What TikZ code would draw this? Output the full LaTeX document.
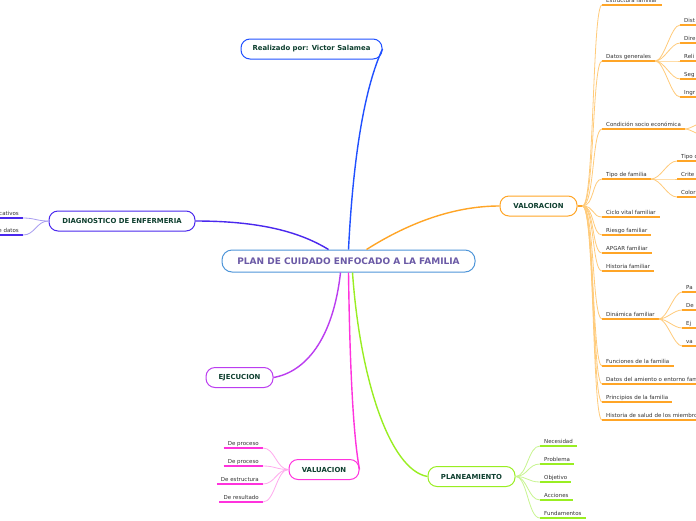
\documentclass[tikz,border=0pt]{standalone}
\usepackage{fontspec}
\setmainfont{DejaVu Sans}
\definecolor{nodetxt}{HTML}{0E3F2F}
\definecolor{roottxt}{HTML}{6B5AA6}
\definecolor{leaftxt}{HTML}{333333}
\definecolor{rootc}{HTML}{4F96D9}
\definecolor{bluec}{HTML}{2050FF}
\definecolor{diagc}{HTML}{4A28EE}
\definecolor{diagl}{HTML}{A99EF0}
\definecolor{orc}{HTML}{FFA526}
\definecolor{orl}{HTML}{FFCB7A}
\definecolor{grc}{HTML}{99EE22}
\definecolor{grl}{HTML}{C8F590}
\definecolor{mgc}{HTML}{FF33DD}
\definecolor{mgl}{HTML}{FFAAEE}
\definecolor{puc}{HTML}{BB3DF0}
\tikzset{
  mnode/.style={draw, line width=1pt, rounded corners=9pt, fill=white, minimum height=20pt, inner xsep=0pt, inner ysep=0pt, font=\fontsize{6.9}{8}\selectfont\bfseries, text=nodetxt},
  leaf/.style={anchor=south west, inner xsep=4pt, inner ysep=1.5pt, text height=4pt, text depth=1.2pt, font=\fontsize{5.5}{6.5}\selectfont, text=leaftxt},
  rleaf/.style={leaf, anchor=south east},
  wide/.style={text width=#1, align=left},
  uline/.style={line width=1.8pt},
  conn/.style={line width=0.8pt},
  mainc/.style={line width=1.4pt},
}
\begin{document}
\begin{tikzpicture}[x=1pt,y=-1pt]
\useasboundingbox (0,0) rectangle (696,520);
\clip (0,0) rectangle (696,520);
\fill[white] (0,0) rectangle (696,520);

% main nodes
\node[draw=rootc, line width=1pt, rounded corners=10pt, fill=white, minimum width=253pt, minimum height=22pt, inner sep=0pt, font=\fontsize{9}{10}\selectfont\bfseries, text=roottxt] (root) at (348.5,261) {PLAN DE CUIDADO ENFOCADO A LA FAMILIA};
\node[mnode, draw=bluec, minimum width=141pt] (real) at (311.5,49) {Realizado por: Victor Salamea};
\node[mnode, draw=diagc, minimum width=146pt] (diag) at (122,221) {DIAGNOSTICO DE ENFERMERIA};
\node[mnode, draw=orc, minimum width=77pt] (val) at (538.5,206) {VALORACION};
\node[mnode, draw=grc, minimum width=87pt] (plan) at (471.5,476.5) {PLANEAMIENTO};
\node[mnode, draw=mgc, minimum width=70pt] (valu) at (324,469.5) {VALUACION};
\node[mnode, draw=puc, minimum width=67pt] (ejec) at (239.5,377.5) {EJECUCION};

% main connectors
\draw[mainc, bluec] (root.north) .. controls (354,140) and (368,80) .. (real.east);
\draw[mainc, diagc] ([xshift=-20pt]root.north) .. controls (300,232) and (260,221) .. (diag.east);
\draw[mainc, orc] ([xshift=18pt]root.north) .. controls (410,222) and (455,206) .. (val.west);
\draw[mainc, puc] ([xshift=-8pt]root.south) .. controls (333,340) and (305,372) .. (ejec.east);
\draw[mainc, mgc] (root.south) .. controls (350,380) and (354,440) .. (valu.east);
\draw[mainc, grc] ([xshift=4pt]root.south) .. controls (360,380) and (390,470) .. (plan.west);

% VALORACION branch
\coordinate (vh) at ([xshift=5pt]val.east);
\draw[uline, orc] (val.east) -- (vh);
\foreach \n/\yy/\t in {v1/5/Estructura familiar, v2/61/Datos generales, v3/129/Condición socio económica, v4/179/Tipo de familia, v5/217/Ciclo vital familiar, v6/235/Riesgo familiar, v7/253/APGAR familiar, v8/271/Historia familiar, v9/319/Dinámica familiar, v10/366/Funciones de la familia, v12/402/Principios de la familia}{
  \node[leaf] (\n) at (602,\yy) {\t};
  \draw[uline, orc] (\n.south west) -- (\n.south east);
  \draw[conn, orl] (vh) .. controls +(12,0) and +(-10,0) .. (\n.south west);
}
\foreach \n/\yy/\t in {v11/384/Datos del amiento o entorno fam, v13/420/Historia de salud de los miembro}{
  \node[leaf, wide=130pt] (\n) at (602,\yy) {\t};
  \draw[uline, orc] (\n.south west) -- (\n.south east);
  \draw[conn, orl] (vh) .. controls +(12,0) and +(-10,0) .. (\n.south west);
}
% Datos generales subs
\foreach \n/\yy/\t in {g1/25/Dist, g2/43/Dire, g3/61/Reli, g4/79/Seg, g5/97/Ingr}{
  \node[leaf, wide=30pt] (\n) at (680,\yy) {\t};
  \draw[uline, orc] (\n.south west) -- (\n.south east);
  \draw[conn, orl] (v2.south east) .. controls +(9,0) and +(-9,0) .. (\n.south west);
}
% Tipo de familia subs
\foreach \n/\yy/\t in {t1/161/Tipo d, t2/179/Crite, t3/197/Color}{
  \node[leaf, wide=30pt] (\n) at (677,\yy) {\t};
  \draw[uline, orc] (\n.south west) -- (\n.south east);
  \draw[conn, orl] (v4.south east) .. controls +(10,0) and +(-10,0) .. (\n.south west);
}
% Dinamica subs
\foreach \n/\yy/\t in {d1/292/Pa, d2/310/De, d3/328/Ej, d4/346/va}{
  \node[leaf, wide=30pt] (\n) at (682,\yy) {\t};
  \draw[uline, orc] (\n.south west) -- (\n.south east);
  \draw[conn, orl] (v9.south east) .. controls +(8,0) and +(-8,0) .. (\n.south west);
}
% Condicion socio economica stubs
\coordinate (c1) at (708,120);
\coordinate (c2) at (708,138);
\draw[conn, orl] (v3.south east) .. controls +(6,0) and +(-5,0) .. (c1);
\draw[conn, orl] (v3.south east) .. controls +(6,0) and +(-5,0) .. (c2);

% PLANEAMIENTO branch
\foreach \n/\yy/\t in {p1/446/Necesidad, p2/464/Problema, p3/482/Objetivo, p4/500/Acciones, p5/518/Fundamentos}{
  \node[leaf] (\n) at (540,\yy) {\t};
  \draw[uline, grc] (\n.south west) -- (\n.south east);
  \draw[conn, grl] (plan.east) .. controls +(12,0) and +(-12,0) .. (\n.south west);
}

% VALUACION branch
\foreach \n/\yy/\t in {u1/448/De proceso, u2/466/De proceso, u3/484/De estructura, u4/502/De resultado}{
  \node[rleaf] (\n) at (263,\yy) {\t};
  \draw[uline, mgc] (\n.south west) -- (\n.south east);
  \draw[conn, mgl] (valu.west) .. controls +(-12,0) and +(12,0) .. (\n.south east);
}

% DIAGNOSTICO branch
\foreach \n/\yy/\t in {q1/218/cativos, q2/235/e datos}{
  \node[rleaf] (\n) at (23,\yy) {\t};
  \draw[uline, diagc] (\n.south west) -- (\n.south east);
  \draw[conn, diagl] (diag.west) .. controls +(-12,0) and +(12,0) .. (\n.south east);
}
\end{tikzpicture}
\end{document}
